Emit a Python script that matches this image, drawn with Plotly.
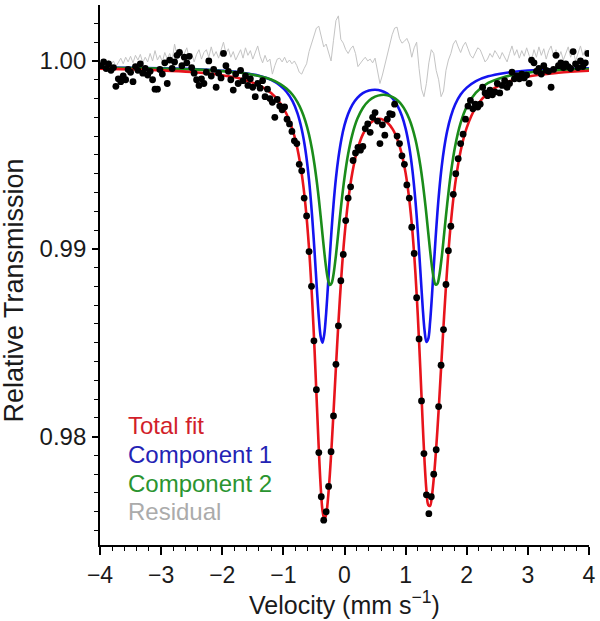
import plotly.graph_objects as go

# ---------------- data ----------------
VELOCITY = [
    -3.98, -3.94, -3.90, -3.86, -3.82, -3.78, -3.74, -3.70, -3.66, -3.62,
    -3.58, -3.54, -3.50, -3.46, -3.42, -3.38, -3.34, -3.30, -3.26, -3.22,
    -3.18, -3.14, -3.10, -3.06, -3.02, -2.98, -2.94, -2.90, -2.86, -2.82,
    -2.78, -2.74, -2.70, -2.66, -2.62, -2.58, -2.54, -2.50, -2.46, -2.42,
    -2.38, -2.34, -2.30, -2.26, -2.22, -2.18, -2.14, -2.10, -2.06, -2.02,
    -1.98, -1.94, -1.90, -1.86, -1.82, -1.78, -1.74, -1.70, -1.66, -1.62,
    -1.58, -1.54, -1.50, -1.46, -1.42, -1.38, -1.34, -1.30, -1.26, -1.22,
    -1.18, -1.14, -1.10, -1.06, -1.02, -0.98, -0.94, -0.90, -0.86, -0.82,
    -0.78, -0.74, -0.70, -0.66, -0.62, -0.58, -0.54, -0.50, -0.46, -0.42,
    -0.38, -0.34, -0.30, -0.26, -0.22, -0.18, -0.14, -0.10, -0.06, -0.02,
    0.02, 0.06, 0.10, 0.14, 0.18, 0.22, 0.26, 0.30, 0.34, 0.38,
    0.42, 0.46, 0.50, 0.54, 0.58, 0.62, 0.66, 0.70, 0.74, 0.78,
    0.82, 0.86, 0.90, 0.94, 0.98, 1.02, 1.06, 1.10, 1.14, 1.18,
    1.22, 1.26, 1.30, 1.34, 1.38, 1.42, 1.46, 1.50, 1.54, 1.58,
    1.62, 1.66, 1.70, 1.74, 1.78, 1.82, 1.86, 1.90, 1.94, 1.98,
    2.02, 2.06, 2.10, 2.14, 2.18, 2.22, 2.26, 2.30, 2.34, 2.38,
    2.42, 2.46, 2.50, 2.54, 2.58, 2.62, 2.66, 2.70, 2.74, 2.78,
    2.82, 2.86, 2.90, 2.94, 2.98, 3.02, 3.06, 3.10, 3.14, 3.18,
    3.22, 3.26, 3.30, 3.34, 3.38, 3.42, 3.46, 3.50, 3.54, 3.58,
    3.62, 3.66, 3.70, 3.74, 3.78, 3.82, 3.86, 3.90, 3.94, 3.98,
]

TRANSMISSION = [
    0.99975, 0.99995, 0.99960, 0.99985, 0.99950, 0.99965, 0.99865, 0.99905, 0.99890, 0.99920,
    0.99900, 0.99955, 0.99940, 0.99890, 0.99970, 0.99950, 0.99985, 0.99935, 0.99960, 0.99925,
    0.99945, 0.99900, 0.99850, 0.99850, 0.99955, 0.99930, 0.99990, 0.99880, 1.00005, 0.99960,
    0.99995, 1.00030, 1.00045, 0.99975, 1.00020, 0.99990, 1.00025, 0.99965, 0.99935, 0.99900,
    0.99870, 0.99905, 0.99880, 0.99940, 1.00000, 0.99920, 0.99955, 0.99860, 0.99935, 0.99910,
    1.00040, 0.99975, 0.99945, 0.99900, 0.99845, 0.99930, 0.99880, 0.99950, 0.99895, 0.99920,
    0.99870, 0.99905, 0.99860, 0.99810, 0.99880, 0.99855, 0.99895, 0.99810, 0.99850, 0.99800,
    0.99780, 0.99700, 0.99795, 0.99760, 0.99740, 0.99755, 0.99690, 0.99665, 0.99625, 0.99575,
    0.99560, 0.99450, 0.99415, 0.99270, 0.99175, 0.98985, 0.98800, 0.98510, 0.98250, 0.97915,
    0.97680, 0.97555, 0.97600, 0.97735, 0.97920, 0.98110, 0.98385, 0.98590, 0.98830, 0.98970,
    0.99150, 0.99270, 0.99330, 0.99470, 0.99510, 0.99540, 0.99525, 0.99545, 0.99640, 0.99665,
    0.99620, 0.99700, 0.99725, 0.99680, 0.99560, 0.99660, 0.99605, 0.99690, 0.99720, 0.99715,
    0.99770, 0.99600, 0.99560, 0.99495, 0.99450, 0.99340, 0.99270, 0.99115, 0.98975, 0.98740,
    0.98520, 0.98190, 0.97910, 0.97690, 0.97590, 0.97680, 0.97800, 0.97930, 0.98160, 0.98380,
    0.98570, 0.98810, 0.98990, 0.99120, 0.99290, 0.99400, 0.99480, 0.99560, 0.99610, 0.99690,
    0.99760, 0.99790, 0.99745, 0.99770, 0.99755, 0.99770, 0.99860, 0.99830, 0.99815, 0.99845,
    0.99820, 0.99835, 0.99880, 0.99830, 0.99870, 0.99895, 0.99860, 0.99880, 0.99940, 0.99905,
    0.99920, 0.99905, 0.99930, 0.99910, 0.99925, 0.99880, 1.00005, 0.99990, 0.99945, 0.99960,
    0.99930, 0.99975, 0.99950, 0.99945, 0.99860, 0.99955, 1.00030, 0.99975, 0.99990, 0.99965,
    0.99985, 0.99970, 0.99960, 1.00050, 0.99985, 0.99965, 1.00000, 0.99970, 0.99990, 1.00040,
]

RESIDUAL = [
    0.99990, 1.00010, 0.99975, 1.00005, 0.99980, 1.00000, 0.99970, 0.99990, 1.00015, 0.99985,
    1.00020, 0.99995, 1.00025, 0.99990, 1.00030, 1.00005, 1.00035, 0.99990, 1.00020, 0.99995,
    1.00040, 1.00000, 1.00055, 1.00005, 1.00030, 0.99995, 1.00045, 1.00010, 1.00040, 1.00000,
    1.00090, 1.00030, 1.00065, 1.00010, 1.00045, 1.00070, 1.00015, 1.00040, 0.99995, 1.00035,
    1.00060, 1.00010, 1.00045, 1.00060, 1.00020, 1.00075, 1.00025, 1.00050, 1.00015, 1.00060,
    1.00100, 1.00040, 1.00065, 1.00020, 1.00050, 1.00005, 1.00035, 1.00060, 1.00015, 1.00070,
    1.00030, 1.00055, 1.00010, 1.00045, 1.00080, 1.00025, 0.99990, 1.00030, 0.99995, 1.00010,
    0.99930, 0.99975, 1.00010, 1.00015, 0.99995, 1.00020, 0.99990, 1.00005, 0.99985, 1.00000,
    0.99975, 0.99940, 0.99930, 0.99960, 0.99985, 1.00050, 1.00095, 1.00140, 1.00175, 1.00185,
    1.00120, 1.00075, 1.00090, 1.00045, 1.00000, 1.00110, 1.00215, 1.00240, 1.00115, 1.00095,
    1.00060, 1.00040, 1.00065, 1.00080, 1.00040, 0.99970, 0.99990, 1.00005, 1.00020, 1.00000,
    1.00010, 0.99990, 1.00015, 0.99940, 0.99880, 0.99925, 0.99980, 1.00030, 1.00090, 1.00140,
    1.00175, 1.00180, 1.00120, 1.00095, 1.00105, 1.00120, 1.00090, 1.00020, 1.00070, 1.00100,
    0.99960, 0.99850, 0.99810, 0.99880, 0.99990, 1.00060, 1.00040, 0.99950, 0.99900, 0.99810,
    0.99840, 0.99950, 1.00005, 1.00040, 1.00090, 1.00110, 1.00075, 1.00045, 1.00080, 1.00100,
    1.00065, 1.00030, 1.00015, 1.00040, 1.00070, 1.00060, 1.00030, 0.99995, 1.00010, 1.00040,
    1.00020, 1.00055, 1.00035, 1.00010, 1.00045, 1.00020, 0.99995, 1.00040, 1.00080, 1.00030,
    1.00060, 1.00015, 1.00055, 1.00025, 1.00070, 1.00030, 1.00005, 1.00060, 1.00020, 1.00075,
    1.00030, 1.00065, 1.00010, 1.00055, 1.00080, 1.00025, 1.00060, 1.00015, 1.00050, 1.00005,
    1.00045, 1.00075, 1.00020, 1.00055, 1.00000, 1.00045, 1.00080, 1.00030, 1.00060, 1.00045,
]

FIT_VELOCITY = [
    -4.0, -3.5, -3.0, -2.5, -2.0, -1.7, -1.4, -1.2, -1.05, -0.95,
    -0.85, -0.77, -0.70, -0.64, -0.58, -0.53, -0.49, -0.45, -0.42, -0.39,
    -0.36, -0.33, -0.30, -0.27, -0.24, -0.21, -0.18, -0.14, -0.10, -0.05,
    0.00, 0.06, 0.13, 0.21, 0.30, 0.40, 0.50, 0.60, 0.70, 0.79,
    0.87, 0.94, 1.00, 1.06, 1.11, 1.16, 1.20, 1.24, 1.28, 1.31,
    1.34, 1.37, 1.40, 1.43, 1.46, 1.49, 1.52, 1.55, 1.59, 1.63,
    1.68, 1.74, 1.81, 1.90, 2.00, 2.15, 2.35, 2.6, 3.0, 3.5, 4.0,
]

COMPONENT_1 = [
    0.99965, 0.99963, 0.99961, 0.99957, 0.99948, 0.99939, 0.99921, 0.99899, 0.99868, 0.99836,
    0.99786, 0.99722, 0.99636, 0.99527, 0.99365, 0.99175, 0.98985, 0.98777, 0.98634, 0.98533,
    0.98500, 0.98547, 0.98658, 0.98805, 0.98961, 0.99107, 0.99235, 0.99376, 0.99484, 0.99585,
    0.99658, 0.99719, 0.99768, 0.99804, 0.99829, 0.99843, 0.99847, 0.99842, 0.99826, 0.99799,
    0.99760, 0.99707, 0.99640, 0.99541, 0.99422, 0.99258, 0.99088, 0.98888, 0.98685, 0.98565,
    0.98504, 0.98520, 0.98609, 0.98746, 0.98903, 0.99055, 0.99193, 0.99310, 0.99437, 0.99535,
    0.99627, 0.99705, 0.99768, 0.99821, 0.99858, 0.99893, 0.99918, 0.99935, 0.99949, 0.99957, 0.99961,
]

COMPONENT_2 = [
    0.99964, 0.99962, 0.99959, 0.99955, 0.99946, 0.99937, 0.99920, 0.99901, 0.99877, 0.99853,
    0.99820, 0.99781, 0.99734, 0.99680, 0.99607, 0.99527, 0.99446, 0.99349, 0.99265, 0.99173,
    0.99076, 0.98981, 0.98897, 0.98836, 0.98807, 0.98817, 0.98863, 0.98965, 0.99090, 0.99245,
    0.99379, 0.99506, 0.99611, 0.99692, 0.99750, 0.99789, 0.99810, 0.99819, 0.99818, 0.99807,
    0.99789, 0.99764, 0.99733, 0.99691, 0.99644, 0.99583, 0.99521, 0.99445, 0.99352, 0.99271,
    0.99182, 0.99086, 0.98992, 0.98907, 0.98842, 0.98809, 0.98814, 0.98855, 0.98954, 0.99079,
    0.99238, 0.99402, 0.99546, 0.99670, 0.99757, 0.99831, 0.99883, 0.99914, 0.99938, 0.99951, 0.99957,
]

TOTAL_FIT = [
    0.99959, 0.99955, 0.99950, 0.99941, 0.99924, 0.99906, 0.99871, 0.99829, 0.99775, 0.99719,
    0.99635, 0.99533, 0.99400, 0.99237, 0.99002, 0.98732, 0.98462, 0.98156, 0.97929, 0.97736,
    0.97606, 0.97558, 0.97585, 0.97670, 0.97798, 0.97954, 0.98128, 0.98370, 0.98604, 0.98860,
    0.99067, 0.99255, 0.99409, 0.99526, 0.99609, 0.99662, 0.99687, 0.99691, 0.99673, 0.99636,
    0.99578, 0.99500, 0.99403, 0.99262, 0.99097, 0.98872, 0.98640, 0.98363, 0.98067, 0.97866,
    0.97715, 0.97636, 0.97631, 0.97683, 0.97775, 0.97895, 0.98036, 0.98195, 0.98421, 0.98644,
    0.98895, 0.99138, 0.99344, 0.99521, 0.99645, 0.99754, 0.99831, 0.99880, 0.99917, 0.99937, 0.99948,
]

LEGEND_LABELS = ["Total fit", "Component 1", "Component 2", "Residual"]
X_TICKS = [-4, -3, -2, -1, 0, 1, 2, 3, 4]
Y_TICKS = [0.98, 0.99, 1.00]
X_TITLE = "Velocity (mm s<sup>−1</sup>)"
Y_TITLE = "Relative Transmission"

# ---------------- styles ----------------
FONT = "Liberation Sans, Arial, sans-serif"
C_RED = "#e8141c"
C_BLUE = "#1414f0"
C_GREEN = "#1a8c1a"
C_GREY = "#c4c4c4"
TXT = "#1a1a1a"
TXT_RED = "#d21f2b"
TXT_BLUE = "#2323b4"
TXT_GREEN = "#2a9430"
TXT_GREY = "#ababab"

fig = go.Figure()

fig.add_trace(go.Scatter(x=VELOCITY, y=RESIDUAL, mode="lines",
                         line=dict(color=C_GREY, width=1), name="Residual"))
fig.add_trace(go.Scatter(x=FIT_VELOCITY, y=COMPONENT_1, mode="lines",
                         line=dict(color=C_BLUE, width=2.6, shape="spline", smoothing=0.9),
                         name="Component 1"))
fig.add_trace(go.Scatter(x=FIT_VELOCITY, y=COMPONENT_2, mode="lines",
                         line=dict(color=C_GREEN, width=2.6, shape="spline", smoothing=0.9),
                         name="Component 2"))
fig.add_trace(go.Scatter(x=FIT_VELOCITY, y=TOTAL_FIT, mode="lines",
                         line=dict(color=C_RED, width=2.6, shape="spline", smoothing=0.9),
                         name="Total fit"))
fig.add_trace(go.Scatter(x=VELOCITY, y=TRANSMISSION, mode="markers",
                         marker=dict(color="black", size=6.8), name="Data"))

# legend drawn as coloured text, as in the reference
legend_colors = [TXT_RED, TXT_BLUE, TXT_GREEN, TXT_GREY]
legend_y = [0.2217, 0.1674, 0.1138, 0.0620]
for label, col, yy in zip(LEGEND_LABELS, legend_colors, legend_y):
    fig.add_annotation(text=label, xref="paper", yref="paper", x=0.054, y=yy,
                       xanchor="left", yanchor="middle", showarrow=False,
                       font=dict(family=FONT, size=24, color=col))

# axis titles
fig.add_annotation(text=Y_TITLE, xref="paper", yref="paper", x=-0.176, y=0.471,
                   xanchor="center", yanchor="middle", textangle=-90, showarrow=False,
                   font=dict(family=FONT, size=27, color=TXT))
fig.add_annotation(text=X_TITLE, xref="paper", yref="paper", x=0.5, y=-0.107,
                   xanchor="center", yanchor="middle", showarrow=False,
                   font=dict(family=FONT, size=25, color=TXT))

fig.update_layout(
    width=600, height=621,
    margin=dict(l=100, r=11, t=5, b=76),
    paper_bgcolor="white", plot_bgcolor="white",
    font=dict(family=FONT, size=24, color=TXT),
    showlegend=False,
)
fig.update_xaxes(
    range=[-4, 4], tickvals=X_TICKS, ticks="outside", ticklen=8, tickwidth=1.5,
    tickcolor="black", showline=True, linecolor="black", linewidth=1.8,
    showgrid=False, zeroline=False, mirror=False, automargin=False,
    ticklabelstandoff=0,
    minor=dict(dtick=0.2, ticks="outside", ticklen=4, tickwidth=1.3, tickcolor="black", showgrid=False),
    tickfont=dict(family=FONT, size=23, color=TXT),
)
fig.update_yaxes(
    range=[0.97423, 1.00298], tickvals=Y_TICKS, tickformat=".2f", ticks="outside",
    ticklen=6, tickwidth=1.5, tickcolor="black", showline=True, linecolor="black",
    linewidth=1.8, showgrid=False, zeroline=False, mirror=False, automargin=False,
    ticklabelstandoff=1,
    minor=dict(dtick=0.001, tick0=0.98, ticks="outside", ticklen=4, tickwidth=1.3, tickcolor="black", showgrid=False),
    tickfont=dict(family=FONT, size=24, color=TXT),
)

# remove the browser's default 8px page margin so the figure sits at the window origin
fig.write_html("out.html", config={"displayModeBar": False},
               post_script="document.body.style.margin='0';")
